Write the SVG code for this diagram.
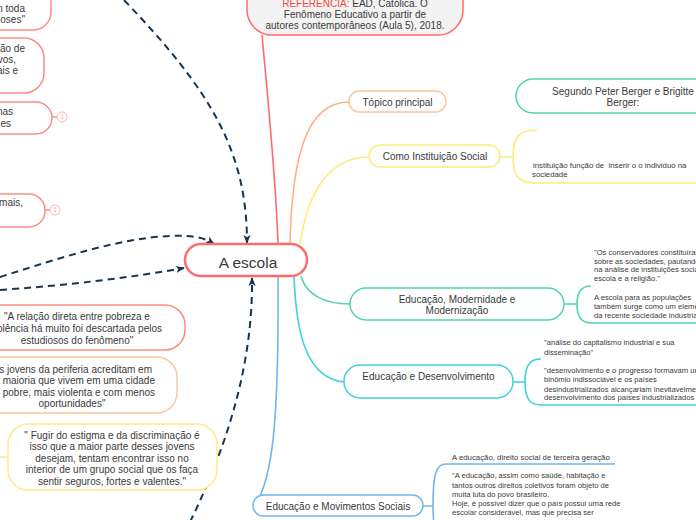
<svg xmlns="http://www.w3.org/2000/svg" width="696" height="520" viewBox="0 0 696 520">
<defs>
<marker id="arr" viewBox="0 0 10 8" refX="9" refY="4" markerWidth="9" markerHeight="8" markerUnits="userSpaceOnUse" orient="auto">
<path d="M0,0 L10,4 L0,8 L2.5,4 z" fill="#17344f" stroke="none"/>
</marker>
<style>
text{font-family:"Liberation Sans",Arial,sans-serif;fill:#3a3a3a}
.n{font-size:10px;text-anchor:middle}
.s{font-size:7.6px}
.e{text-anchor:end}
.c{fill:none;stroke-width:1.6}
.d{fill:none;stroke:#17344f;stroke-width:2;stroke-dasharray:7 5}
.box{fill:#fff;stroke-width:1.5}
.ic{fill:#fff;stroke:#ffb3b0;stroke-width:1}
.ict{font-size:6.5px;text-anchor:middle;fill:#ff9e9a}
</style>
</defs>
<rect width="696" height="520" fill="#fff"/>

<g id="connectors">
<path class="c" stroke="#ff6b6b" d="M262,35 C268,100 276,180 278,244"/>
<path class="c" stroke="#ffb07e" d="M290,244 C292,160 305,102 349,102"/>
<path class="c" stroke="#fcec7c" d="M300,244 C308,190 330,157 369,157"/>
<path class="c" stroke="#52d6a6" d="M301,276 C306,295 325,304 350,304"/>
<path class="c" stroke="#3fd0dd" d="M294,276 C296,330 305,378 344,382"/>
<path class="c" stroke="#6fb6f4" d="M278,276 C279,420 273,480 254,507"/>
<path class="c" stroke="#fcec7c" d="M500,157 L513,157 M513,157 C513,136 520,130 537,130 M513,157 C513,178 520,183 537,183 L700,183"/>
<path class="c" stroke="#52d6a6" d="M564,304 L577,304 M577,304 C577,291 582,286 591,286 M577,304 C577,318 582,323 592,323 L700,323"/>
<path class="c" stroke="#3fd0dd" d="M513,382 L525,382 M525,382 C525,365 530,359 541,359 M525,382 C525,399 530,405 541,405 L700,405"/>
<path class="c" stroke="#6fb6f4" d="M423,506 L433,506 M433,506 C433,474 436,464 446,464 L615,464 M433,506 C433,530 436,535 446,535"/>
<path class="c" stroke="#ff8a84" d="M52,117 L57,117 M45,210 L50,210"/>
<path class="c" stroke="#fcec8c" d="M0,457 L8,457"/>
<path class="d" d="M124,0 C210,90 247,150 247,243" marker-end="url(#arr)"/>
<path class="d" d="M0,277 C60,258 120,238 170,236 C195,235 205,238 214,244" marker-end="url(#arr)"/>
<path class="d" d="M0,290 Q100,283 184,268" marker-end="url(#arr)"/>
<path class="d" d="M190,522 C230,440 253,360 252,278" marker-end="url(#arr)"/>
</g>

<g id="n-central">
<rect x="185" y="244" width="122" height="32" rx="16" fill="#fff" stroke="#ff6b6b" stroke-width="2.5"/>
<text x="248" y="267.5" style="font-size:15.5px;text-anchor:middle">A escola</text>
</g>

<g id="n-referencia">
<rect x="247" y="-30" width="216" height="65" rx="25" fill="#f3f3f3" stroke="#ff6b6b" stroke-width="1.5"/>
<text class="n" x="355" y="6.5"><tspan style="fill:#f0463c">REFERÊNCIA:</tspan> EAD, Católica. O</text>
<text class="n" x="355" y="17.5">Fenômeno Educativo a partir de</text>
<text class="n" x="355" y="28.5">autores contemporâneos (Aula 5), 2018.</text>
</g>

<g id="n-topico">
<rect class="box" x="349" y="91" width="97" height="21" rx="10.5" stroke="#ffc49c"/>
<text class="n" x="397.5" y="105.5">Tópico principal</text>
</g>

<g id="n-instituicao">
<rect class="box" x="369" y="145" width="131" height="22" rx="11" stroke="#fcec7c"/>
<text class="n" x="435" y="159.5">Como Instituição Social</text>
</g>
<g id="n-instituicao-c">
<text class="s" x="533" y="168" xml:space="preserve" style="font-size:7.8px">instituição função de  inserir o o individuo na</text>
<text class="s" x="532" y="177" style="font-size:7.8px">sociedade</text>
</g>

<g id="n-berger">
<rect class="box" x="516" y="79" width="230" height="34" rx="17" stroke="#52d6a6"/>
<text class="n" x="623" y="94.5">Segundo Peter Berger e Brigitte</text>
<text class="n" x="623" y="105.5">Berger:</text>
</g>

<g id="n-modernidade">
<rect class="box" x="350" y="288" width="214" height="32" rx="16" stroke="#52d6a6"/>
<text class="n" x="457" y="302.5">Educação, Modernidade e</text>
<text class="n" x="457" y="313.5">Modernização</text>
</g>
<g id="n-modernidade-c">
<text class="s" x="594" y="255">"Os conservadores constituíram</text>
<text class="s" x="594" y="263.5">sobre as sociedades, pautando</text>
<text class="s" x="594" y="272">na análise de instituições sociais</text>
<text class="s" x="594" y="281">escola e a religião."</text>
<text class="s" x="594" y="300">A escola para as populações</text>
<text class="s" x="594" y="309">também surge como um elemento</text>
<text class="s" x="594" y="318">da recente sociedade industrial</text>
</g>

<g id="n-desenvolvimento">
<rect class="box" x="344" y="365" width="169" height="33" rx="16" stroke="#3fd0dd"/>
<text class="n" x="428.5" y="379.5">Educação e Desenvolvimento</text>
</g>
<g id="n-desenvolvimento-c">
<text class="s" x="544" y="345">"análise do capitalismo industrial e sua</text>
<text class="s" x="544" y="354.5">disseminação"</text>
<text class="s" x="544" y="372.5">"desenvolvimento e o progresso formavam um</text>
<text class="s" x="544" y="382">binômio indissociável e os países</text>
<text class="s" x="544" y="391.5">desindustrializados alcançariam inevitavelmente</text>
<text class="s" x="544" y="400">desenvolvimento dos países industrializados</text>
</g>

<g id="n-movimentos">
<rect class="box" x="253" y="495" width="170" height="21" rx="10.5" stroke="#6fb6f4"/>
<text class="n" x="338" y="509.5">Educação e Movimentos Sociais</text>
</g>
<g id="n-movimentos-c">
<text class="s" x="452" y="460" style="font-size:7.8px">A educação, direito social de terceira geração</text>
<text class="s" x="452" y="478">"A educação, assim como saúde, habitação e</text>
<text class="s" x="452" y="487.5">tantos outros direitos coletivos foram objeto de</text>
<text class="s" x="452" y="496.5">muita luta do povo brasileiro.</text>
<text class="s" x="452" y="505.5">Hoje, é possível dizer que o país possui uma rede</text>
<text class="s" x="452" y="514.5">escolar considerável, mas que precisa ser</text>
</g>

<g id="n-left1">
<rect class="box" x="-100" y="-20" width="151" height="50" rx="18" stroke="#ff8a84"/>
<text class="n e" x="25" y="12">n toda</text>
<text class="n e" x="25" y="23">oses"</text>
</g>
<g id="n-left2">
<rect class="box" x="-100" y="38" width="144" height="55" rx="20" stroke="#ff8a84"/>
<text class="n e" x="25" y="52">ção de</text>
<text class="n e" x="16" y="63">vos,</text>
<text class="n e" x="18" y="74">ais e</text>
</g>
<g id="n-left3">
<rect class="box" x="-100" y="102" width="152" height="32" rx="16" stroke="#ff8a84"/>
<text class="n e" x="13" y="115">nas</text>
<text class="n e" x="11" y="126.5">es</text>
<circle class="ic" cx="62" cy="117" r="5"/>
<text class="ict" x="62" y="119.3">1</text>
</g>
<g id="n-left4">
<rect class="box" x="-100" y="194" width="145" height="33" rx="16" stroke="#ff8a84"/>
<text class="n e" x="23" y="206">mais,</text>
<circle class="ic" cx="55" cy="210" r="5"/>
<text class="ict" x="55" y="212.3">1</text>
</g>
<g id="n-left5">
<rect class="box" x="-40" y="305" width="225" height="45" rx="20" stroke="#ff8a84"/>
<text class="n" x="77" y="319.5">"A relação direta entre pobreza e</text>
<text class="n e" x="162" y="331.5">violência há muito foi descartada pelos</text>
<text class="n" x="77" y="343.5">estudiosos do fenômeno"</text>
</g>
<g id="n-left6">
<rect class="box" x="-60" y="357" width="237" height="56" rx="20" stroke="#ffc6a0"/>
<text class="n e" x="152" y="372.5">Os jovens da periferia acreditam em</text>
<text class="n e" x="155" y="384">sua maioria que vivem em uma cidade</text>
<text class="n e" x="155" y="395.5">mais pobre, mais violenta e com menos</text>
<text class="n" x="72" y="407">oportunidades"</text>
</g>
<g id="n-left7">
<rect class="box" x="8" y="424" width="209" height="66" rx="20" stroke="#fcec8c"/>
<text class="n" x="112" y="438.5">" Fugir do estigma e da discriminação é</text>
<text class="n" x="112" y="450">isso que a maior parte desses jovens</text>
<text class="n" x="112" y="461.5">desejam, tentam encontrar isso no</text>
<text class="n" x="112" y="473">interior de um grupo social que os faça</text>
<text class="n" x="112" y="484.5">sentir seguros, fortes e valentes."</text>
</g>
</svg>
